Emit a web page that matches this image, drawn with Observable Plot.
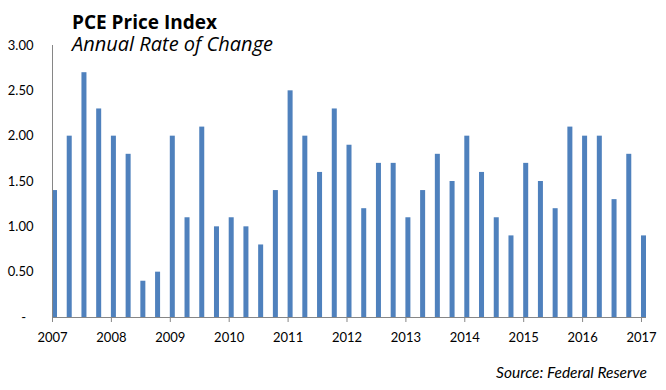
<!DOCTYPE html>
<html>
<head>
<meta charset="utf-8">
<script src="https://cdn.jsdelivr.net/npm/d3@7"></script>
<script src="https://cdn.jsdelivr.net/npm/@observablehq/plot@0.6"></script>
<style>
  body { margin: 0; background: #fff; }
  #wrap { position: relative; width: 666px; height: 390px; font-family: Lato, sans-serif; }
  #title { position: absolute; left: 72px; top: 12.5px; line-height: 1; font-family: "Open Sans", sans-serif; font-size: 19px; font-weight: bold; color: #000; white-space: nowrap; }
  #subtitle { position: absolute; left: 72px; top: 33.5px; line-height: 1; font-family: "Open Sans", sans-serif; font-size: 20px; font-style: italic; color: #000; white-space: nowrap; }
  #source { position: absolute; right: 19px; top: 365px; line-height: 1; font-size: 15.5px; font-style: italic; color: #000; white-space: nowrap; }
  svg { position: absolute; left: 0; top: 0; }
</style>
</head>
<body>
<div id="wrap">
  <div id="chart"></div>
  <div id="title">PCE Price Index</div>
  <div id="subtitle">Annual Rate of Change</div>
  <div id="source">Source: Federal Reserve</div>
</div>
<script>
const years = [2007,2007,2007,2007, 2008,2008,2008,2008, 2009,2009,2009,2009, 2010,2010,2010,2010,
  2011,2011,2011,2011, 2012,2012,2012,2012, 2013,2013,2013,2013, 2014,2014,2014,2014,
  2015,2015,2015,2015, 2016,2016,2016,2016, 2017];
const quarters = [1,2,3,4, 1,2,3,4, 1,2,3,4, 1,2,3,4, 1,2,3,4, 1,2,3,4, 1,2,3,4, 1,2,3,4, 1,2,3,4, 1,2,3,4, 1];
const values = [1.4,2.0,2.7,2.3, 2.0,1.8,0.4,0.5, 2.0,1.1,2.1,1.0, 1.1,1.0,0.8,1.4,
  2.5,2.0,1.6,2.3, 1.9,1.2,1.7,1.7, 1.1,1.4,1.8,1.5, 2.0,1.6,1.1,0.9,
  1.7,1.5,1.2,2.1, 2.0,2.0,1.3,1.8, 0.9];
const yearTicks = [2007,2008,2009,2010,2011,2012,2013,2014,2015,2016,2017];
const valueTicks = [0,0.5,1.0,1.5,2.0,2.5,3.0];

const barYears = 0.085;
const data = values.map((v, i) => ({t: years[i] + (quarters[i] - 1) / 4, value: v}));

const chart = Plot.plot({
  width: 666,
  height: 390,
  marginLeft: 52,
  marginRight: 20,
  marginTop: 45,
  marginBottom: 73,
  style: {fontFamily: "Lato, sans-serif", fontSize: "13px", color: "#000", background: "#fff"},
  x: {domain: [2007, 2017 + barYears], label: null},
  y: {domain: [0, 3], label: null},
  marks: [
    Plot.rectY(data, {x1: "t", x2: d => d.t + barYears, y1: 0, y2: "value", fill: "#4F81BD"}),
    Plot.ruleY([0], {stroke: "#868686", strokeWidth: 1}),
    Plot.ruleX([2007], {y1: 0, y2: 3, stroke: "#868686", strokeWidth: 1}),
    Plot.axisX({ticks: yearTicks, tickFormat: d => String(d), tickSize: 5, tickPadding: 10, stroke: "#868686", fill: "#000", label: null}),
    Plot.axisY({ticks: valueTicks, tickFormat: d => d === 0 ? "-\u2007" : d.toFixed(2), tickSize: 0, tickPadding: 19, fill: "#000", label: null})
  ]
});
document.getElementById("chart").appendChild(chart);
</script>
</body>
</html>
